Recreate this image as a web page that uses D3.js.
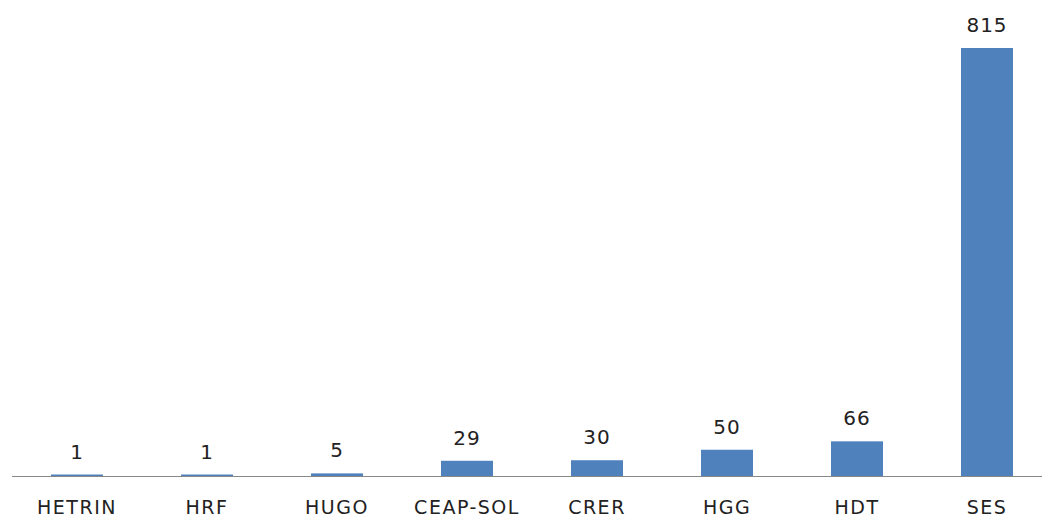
<!DOCTYPE html>
<html><head><meta charset="utf-8">
<script src="https://cdn.jsdelivr.net/npm/d3@7"></script>
<style>html,body{margin:0;padding:0;background:#fff;}svg{display:block;}</style>
</head><body>
<script>
const categories = ["HETRIN","HRF","HUGO","CEAP-SOL","CRER","HGG","HDT","SES"];
const values = [1,1,5,29,30,50,66,815];

const W = 1042, H = 517;
const svg = d3.select("body").append("svg").attr("width", W).attr("height", H);
const x = d3.scaleBand().domain(categories).range([12, 1052]).paddingInner(0.6).paddingOuter(0.3);
const y = d3.scaleLinear().domain([0, 815]).range([476, 48]);

svg.selectAll("rect.bar").data(values).join("rect")
  .attr("class","bar")
  .attr("x", (d,i) => x(categories[i]))
  .attr("width", x.bandwidth())
  .attr("y", d => Math.min(y(d), y(0) - 1.5))
  .attr("height", d => Math.max(y(0) - y(d), 1.5))
  .attr("fill", "#4F81BD");

svg.append("line").attr("x1", 12).attr("x2", 1042).attr("y1", y(0)+0.5).attr("y2", y(0)+0.5)
  .attr("stroke", "#888").attr("stroke-width", 1);

svg.selectAll("text.val").data(values).join("text")
  .attr("class","val")
  .attr("x", (d,i) => x(categories[i]) + x.bandwidth()/2)
  .attr("y", d => y(d) - 16)
  .attr("text-anchor","middle")
  .attr("font-family","DejaVu Sans, sans-serif")
  .attr("font-size", 20)
  .attr("letter-spacing", 1)
  .attr("fill","#222")
  .text(d => d);

svg.selectAll("text.cat").data(categories).join("text")
  .attr("class","cat")
  .attr("x", d => x(d) + x.bandwidth()/2)
  .attr("y", 514)
  .attr("text-anchor","middle")
  .attr("font-family","DejaVu Sans, sans-serif")
  .attr("font-size", 19)
  .attr("letter-spacing", 1.5)
  .attr("fill","#222")
  .text(d => d);
</script>
</body></html>
